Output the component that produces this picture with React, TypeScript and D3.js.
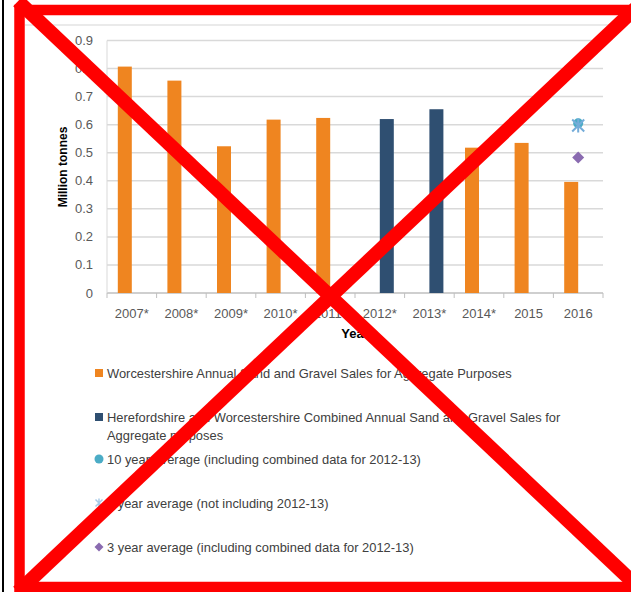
import React from "react";
import * as d3 from "d3";

const years = ["2007*", "2008*", "2009*", "2010*", "2011*", "2012*", "2013*", "2014*", "2015", "2016"];
const worcsSales = [0.807, 0.757, 0.523, 0.618, 0.624, null, null, 0.518, 0.535, 0.396];
const combinedSales = [null, null, null, null, null, 0.62, 0.655, null, null, null];
const tenYearAvg = [null, null, null, null, null, null, null, null, null, 0.605];
const eightYearAvg = [null, null, null, null, null, null, null, null, null, 0.597];
const threeYearAvg = [null, null, null, null, null, null, null, null, null, 0.483];
const yTicks = [0, 0.1, 0.2, 0.3, 0.4, 0.5, 0.6, 0.7, 0.8, 0.9];
const legendLabels = [
  ["Worcestershire Annual Sand and Gravel Sales for Aggregate Purposes"],
  ["Herefordshire and Worcestershire Combined Annual Sand and Gravel Sales for", "Aggregate purposes"],
  ["10 year average (including combined data for 2012-13)"],
  ["8 year average (not including 2012-13)"],
  ["3 year average (including combined data for 2012-13)"],
];

const ORANGE = "#ef8520";
const NAVY = "#2f4f71";
const TEAL = "#4bacc6";
const STAR = "#74acd9";
const PURPLE = "#8a6bb0";
const FONT = "'Liberation Sans', Arial, sans-serif";

export default function App() {
  const W = 631, H = 592;
  const left = 107, right = 603, top = 40.5, bottom = 293;
  const x = d3.scaleBand<string>().domain(years).range([left, right]);
  const bw = x.bandwidth();
  const inner = d3.scaleBand<string>().domain(["w", "c"]).range([bw / 2 - 14, bw / 2 + 14]);
  const y = d3.scaleLinear().domain([0, 0.9]).range([bottom, top]);

  const starPath = (cx: number, cy: number, s: number) =>
    `M${cx - s},${cy - s}L${cx + s},${cy + s}M${cx - s},${cy + s}L${cx + s},${cy - s}M${cx},${cy - s - 1}L${cx},${cy + s + 1}`;
  const diamond = (cx: number, cy: number, s: number) =>
    `M${cx},${cy - s}L${cx + s},${cy}L${cx},${cy + s}L${cx - s},${cy}Z`;

  const legendY = [373, 417, 459, 503, 547];
  const legendMarkX = 99;

  return (
    <svg width={W} height={H} style={{ position: "absolute", left: 0, top: 0, background: "#fff" }} fontFamily={FONT}>
      <rect x={0} y={0} width={W} height={H} fill="#fff" />
      {/* chart frame top line */}
      <line x1={25} x2={625} y1={25} y2={25} stroke="#e3e3e3" strokeWidth={1.5} />
      {/* gridlines */}
      {yTicks.map((t) => (
        <line key={t} x1={left} x2={right} y1={y(t)} y2={y(t)} stroke={t === 0 ? "#bfbfbf" : "#d9d9d9"} strokeWidth={1.5} />
      ))}
      <line x1={left} x2={left} y1={top} y2={bottom} stroke="#d9d9d9" strokeWidth={1} />
      {/* x ticks */}
      {years.concat(["end"]).map((yr, i) => {
        const xx = i < years.length ? (x(yr) as number) : right;
        return <line key={yr} x1={xx} x2={xx} y1={bottom} y2={bottom + 5} stroke="#bfbfbf" strokeWidth={1} />;
      })}
      {/* y tick labels */}
      {yTicks.map((t) => (
        <text key={t} x={93} y={y(t)} dy="0.35em" textAnchor="end" fontSize={13} fill="#595959">
          {t === 0 ? "0" : d3.format(".1f")(t)}
        </text>
      ))}
      {/* x labels */}
      {years.map((yr) => (
        <text key={yr} x={(x(yr) as number) + bw / 2} y={318} textAnchor="middle" fontSize={13} fill="#595959">
          {yr}
        </text>
      ))}
      {/* bars */}
      {years.map((yr, i) => {
        const v = worcsSales[i];
        if (v == null) return null;
        const bx = (x(yr) as number) + (inner("w") as number);
        return <rect key={"w" + yr} x={bx} y={y(v)} width={inner.bandwidth()} height={bottom - y(v)} fill={ORANGE} />;
      })}
      {years.map((yr, i) => {
        const v = combinedSales[i];
        if (v == null) return null;
        const bx = (x(yr) as number) + (inner("c") as number);
        return <rect key={"c" + yr} x={bx} y={y(v)} width={inner.bandwidth()} height={bottom - y(v)} fill={NAVY} />;
      })}
      {/* average markers */}
      {years.map((yr, i) => {
        const v = tenYearAvg[i];
        if (v == null) return null;
        return <circle key={"t" + yr} cx={(x(yr) as number) + bw / 2} cy={y(v)} r={5} fill={TEAL} />;
      })}
      {years.map((yr, i) => {
        const v = eightYearAvg[i];
        if (v == null) return null;
        return <path key={"e" + yr} d={starPath((x(yr) as number) + bw / 2, y(v), 6)} stroke={STAR} strokeWidth={2} fill="none" />;
      })}
      {years.map((yr, i) => {
        const v = threeYearAvg[i];
        if (v == null) return null;
        return <path key={"h" + yr} d={diamond((x(yr) as number) + bw / 2, y(v), 6)} fill={PURPLE} />;
      })}
      {/* axis titles */}
      <text transform={`translate(67,167) rotate(-90)`} textAnchor="middle" fontSize={12} fontWeight="bold" fill="#000">
        Million tonnes
      </text>
      <text x={(left + right) / 2} y={338} textAnchor="middle" fontSize={13} fontWeight="bold" fill="#000">
        Year
      </text>
      {/* legend */}
      <rect x={legendMarkX - 4} y={legendY[0] - 4} width={8} height={8} fill={ORANGE} />
      <rect x={legendMarkX - 4} y={legendY[1] - 4} width={8} height={8} fill={NAVY} />
      <circle cx={legendMarkX} cy={legendY[2]} r={4.5} fill={TEAL} />
      <path d={starPath(legendMarkX, legendY[3], 3.5)} stroke="#a9cbe8" strokeWidth={1.5} fill="none" />
      <path d={diamond(legendMarkX, legendY[4], 4.5)} fill={PURPLE} />
      {legendLabels.map((lines, i) =>
        lines.map((ln, j) => (
          <text key={i + "-" + j} x={107} y={legendY[i] + j * 18} dy="0.35em" fontSize={12.9} fill="#404040">
            {ln}
          </text>
        ))
      )}
      {/* red cross overlay */}
      <line x1={3} x2={3} y1={0} y2={H} stroke="#000" strokeWidth={2} />
      <line x1={18} y1={1.2} x2={636} y2={585} stroke="#ff0000" strokeWidth={14} />
      <line x1={18} y1={591.8} x2={636} y2={8} stroke="#ff0000" strokeWidth={14} />
      <rect x={19.5} y={10} width={640} height={577} fill="none" stroke="#ff0000" strokeWidth={10.5} />
    </svg>
  );
}
